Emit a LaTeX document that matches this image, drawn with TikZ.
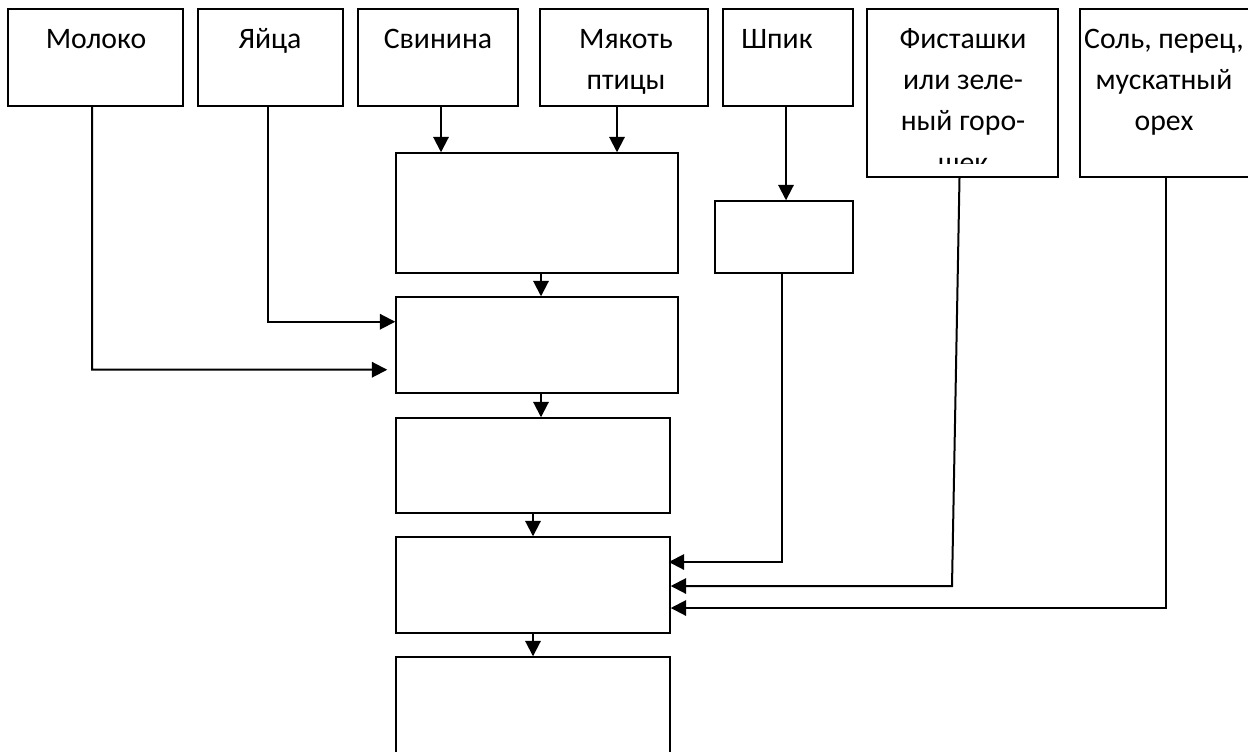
\documentclass[tikz,border=0pt]{standalone}
\usepackage{fontspec}
\setmainfont{Carlito}
\usetikzlibrary{fit,arrows.meta,calc}
\begin{document}
\begin{tikzpicture}[x=0.75pt,y=-0.75pt,
  box/.style={draw, line width=1.1pt, inner sep=0pt},
  lbl/.style={anchor=north, inner sep=0pt, align=center, font=\fontsize{22.3}{31}\selectfont},
  arr/.style={line width=1.5pt, -{Triangle[length=11.5pt,width=11.5pt]}}]
\useasboundingbox (0,0) rectangle (1248,751);
% top input boxes
\node[box, fit={(8,9) (183,106)}] (mol) {};
\node[box, fit={(198,9) (343,106)}] (yai) {};
\node[box, fit={(358,9) (518,106)}] (svi) {};
\node[box, fit={(540,9) (708,106)}] (mya) {};
\node[box, fit={(723,9) (853,106)}] (shp) {};
\node[box, fit={(867,9) (1058,177)}] (fis) {};
\node[box, fit={(1080,9) (1256,177)}] (sol) {};
% labels
\node[lbl] (tmol) at (96,19) {\strut Молоко};
\node[lbl] (tyai) at (270,19) {\strut Яйца};
\node[lbl] (tsvi) at (438,19) {\strut Свинина};
\node[lbl] (tmya) at (626,19) {\strut Мякоть\\птицы};
\node[lbl] (tshp) at (777,19) {\strut Шпик};
\begin{scope}
  \clip (fis.north west) rectangle ([yshift=10.5pt]fis.south east);
  \node[lbl] (tfis) at (963,19) {\strut Фисташки\\или зеле-\\ный горо-\\шек};
\end{scope}
\node[lbl] (tsol) at (1164,19) {\strut Соль, перец,\\мускатный\\орех};
% process boxes
\node[box, fit={(396,153) (678,273)}] (A) {};
\node[box, fit={(396,297) (678,393)}] (B) {};
\node[box, fit={(396,418) (670,513)}] (C) {};
\node[box, fit={(396,537) (670,633)}] (D) {};
\node[box, fit={(396,657) (670,760)}] (E) {};
\node[box, fit={(715,201) (853,273)}] (S) {};
% connectors
\draw[arr] ([xshift=2.25pt]svi.south) -- ([xshift=2.25pt]svi.south |- A.north);
\draw[arr] ([xshift=-5.25pt]mya.south) -- ([xshift=-5.25pt]mya.south |- A.north);
\draw[arr] ([xshift=-1.5pt]shp.south) -- ([xshift=-1.5pt]shp.south |- S.north);
\draw[arr] ([xshift=3pt]A.south) -- ([xshift=3pt]A.south |- B.north);
\draw[arr] ([xshift=3pt]B.south) -- ([xshift=3pt]B.south |- C.north);
\draw[arr] (C.south) -- (C.south |- D.north);
\draw[arr] (D.south) -- (D.south |- E.north);
% side inputs
\coordinate (yturn) at ($(yai.south)+(-3,215)$);
\draw[arr] ([xshift=-2.25pt]yai.south) -- (yturn) -- (yturn -| B.west);
\coordinate (mturn) at ($(mol.south)+(-3.5,263)$);
\draw[arr, shorten >=6pt] ([xshift=-2.6pt]mol.south) -- (mturn) -- (mturn -| B.west);
\coordinate (sturn) at (S.south |- 0,562);
\draw[arr] ([xshift=-1.5pt]S.south) -- ([xshift=-1.5pt]sturn) -- ([xshift=-1.5pt]sturn -| D.east);
\coordinate (fturn) at (952,586);
\draw[arr] ([xshift=-2.25pt]fis.south) -- (fturn) -- (fturn -| D.east);
\coordinate (oturn) at (1166,608);
\draw[arr] (oturn |- sol.south) -- (oturn) -- (oturn -| D.east);
\end{tikzpicture}
\end{document}
